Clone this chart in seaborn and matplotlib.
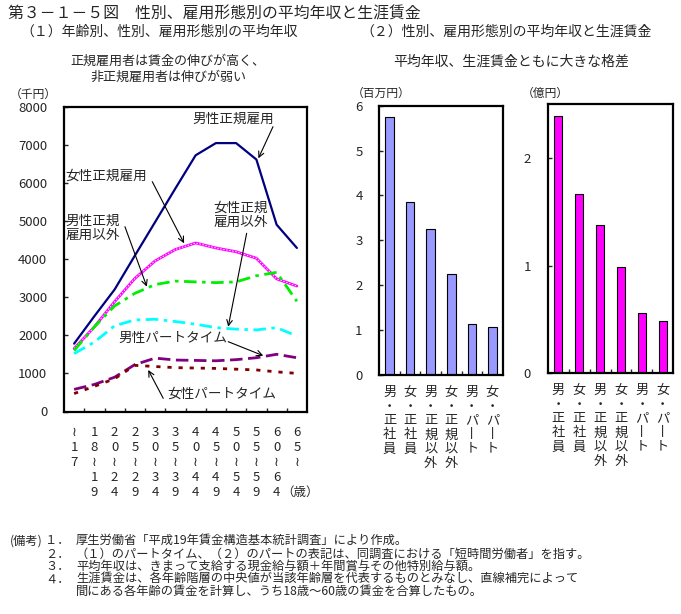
import numpy as np
import pandas as pd
import matplotlib
matplotlib.use("Agg")
import matplotlib.pyplot as plt
import seaborn as sns
from matplotlib.ticker import FixedLocator

sns.set_style("white")
plt.rcParams["font.family"] = ["Noto Sans CJK JP", "DejaVu Sans"]
plt.rcParams["lines.scale_dashes"] = False

# ---------------- data ----------------
age_labels = ["≀\n1\n7", "1\n8\n≀\n1\n9", "2\n0\n≀\n2\n4", "2\n5\n≀\n2\n9",
              "3\n0\n≀\n3\n4", "3\n5\n≀\n3\n9", "4\n0\n≀\n4\n4", "4\n5\n≀\n4\n9",
              "5\n0\n≀\n5\n4", "5\n5\n≀\n5\n9", "6\n0\n≀\n6\n4", "6\n5\n≀"]
male_regular = [1780, 2500, 3200, 4090, 4970, 5850, 6720, 7040, 7040, 6610, 4900, 4290]
female_regular = [1650, 2220, 2880, 3490, 3950, 4250, 4420, 4290, 4190, 4020, 3480, 3290]
male_nonregular = [1600, 2220, 2770, 3100, 3330, 3420, 3400, 3380, 3400, 3560, 3650, 2890]
female_nonregular = [1520, 1820, 2250, 2400, 2420, 2360, 2290, 2200, 2160, 2140, 2200, 1980]
male_part = [580, 710, 900, 1230, 1400, 1350, 1340, 1330, 1360, 1410, 1500, 1410]
female_part = [470, 660, 860, 1210, 1180, 1150, 1140, 1130, 1110, 1090, 1040, 1000]

bar_categories = ["男・正社員", "女・正社員", "男・正規以外", "女・正規以外", "男・パート", "女・パート"]
bar_labels = ["男\n・\n正\n社\n員", "女\n・\n正\n社\n員", "男\n・\n正\n規\n以\n外",
              "女\n・\n正\n規\n以\n外", "男\n・\nパ\n丨\nト", "女\n・\nパ\n丨\nト"]
avg_income = [5.75, 3.86, 3.25, 2.26, 1.13, 1.06]      # 百万円
lifetime_wage = [2.39, 1.67, 1.38, 0.99, 0.56, 0.48]   # 億円

W, H = 681, 614
fig = plt.figure(figsize=(W / 100, H / 100), dpi=100)


def px_axes(l, t, r, b):
    return fig.add_axes([l / W, 1 - b / H, (r - l) / W, (b - t) / H])


def ftext(x, y, s, **kw):
    kw.setdefault("va", "center")
    fig.text(x / W, 1 - y / H, s, **kw)


def style_box(ax):
    for sp in ax.spines.values():
        sp.set_visible(True)
        sp.set_color("black")
        sp.set_linewidth(1.6)


# ---------------- line chart ----------------
ax1 = px_axes(64, 106.5, 307, 411.5)
x = np.arange(len(age_labels))
sns.lineplot(x=x, y=male_regular, ax=ax1, color="#000080", lw=1.6)
sns.lineplot(x=x, y=female_regular, ax=ax1, color="#FF00FF", lw=2.0)
sns.lineplot(x=x, y=female_regular, ax=ax1, color="white", lw=0.7, linestyle=(0, (1, 1.2)))
sns.lineplot(x=x, y=male_nonregular, ax=ax1, color="#00EE00", lw=2.0, linestyle=(0, (9, 4, 2.5, 4)))
sns.lineplot(x=x, y=female_nonregular, ax=ax1, color="#00FFFF", lw=2.0, linestyle=(0, (9, 4, 2.5, 4)))
sns.lineplot(x=x, y=male_part, ax=ax1, color="#800080", lw=2.0, linestyle=(0, (9, 4)))
sns.lineplot(x=x, y=female_part, ax=ax1, color="#800000", lw=2.0, linestyle=(0, (3, 5)))
ax1.set_xlim(-0.5, 11.5)
ax1.set_ylim(0, 8000)
ax1.yaxis.set_major_locator(FixedLocator(np.arange(0, 8001, 1000)))
ax1.set_yticklabels([str(v) for v in range(0, 8001, 1000)], fontsize=9.5)
ax1.set_xticks(x)
ax1.set_xticklabels(age_labels, fontsize=9.5, va="top", linespacing=1.2)
ax1.xaxis.set_minor_locator(FixedLocator(np.arange(0.5, 11, 1)))
ax1.tick_params(axis="x", which="major", length=0, pad=10.5)
ax1.tick_params(axis="x", which="minor", direction="in", length=3, width=1, bottom=True)
ax1.tick_params(axis="y", direction="in", length=3, width=1, pad=12, left=True)
ax1.set_xlabel("")
ax1.set_ylabel("")
style_box(ax1)

ann_fs = 9.8
arrow = dict(arrowstyle="->", color="black", lw=0.8, shrinkA=0, shrinkB=0)
ax1.text(7.85, 7672, "男性正規雇用", fontsize=ann_fs, ha="center", va="center")
ax1.annotate("", xy=(9.10, 6641), xytext=(9.82, 7470), arrowprops=arrow)
ax1.text(-0.42, 6177, "女性正規雇用", fontsize=ann_fs, ha="left", va="center")
ax1.annotate("", xy=(5.43, 4412), xytext=(3.86, 6028), arrowprops=arrow)
ax1.text(-0.42, 4826, "男性正規\n雇用以外", fontsize=ann_fs, ha="left", va="center", linespacing=1.0)
ax1.annotate("", xy=(3.59, 3273), xytext=(2.51, 4847), arrowprops=arrow)
ax1.text(8.22, 5154, "女性正規\n雇用以外", fontsize=ann_fs, ha="center", va="center", linespacing=1.0)
ax1.annotate("", xy=(7.61, 2224), xytext=(8.52, 4674), arrowprops=arrow)
ax1.text(4.86, 1941, "男性パートタイム", fontsize=ann_fs, ha="center", va="center")
ax1.annotate("", xy=(9.34, 1464), xytext=(7.61, 1831), arrowprops=arrow)
ax1.text(7.29, 459, "女性パートタイム", fontsize=ann_fs, ha="center", va="center")
ax1.annotate("", xy=(3.66, 1089), xytext=(4.40, 346), arrowprops=arrow)

# ---------------- bar charts ----------------
df = pd.DataFrame({"cat": bar_categories, "income": avg_income, "life": lifetime_wage})

ax2 = px_axes(379.3, 105.7, 502.7, 375)
sns.barplot(data=df, x="cat", y="income", ax=ax2, color="#9999FF", width=0.42,
            edgecolor="black", linewidth=0.8, saturation=1)
ax2.set_ylim(0, 6)
ax2.set_xlim(-0.5, 5.5)
ax2.yaxis.set_major_locator(FixedLocator(range(0, 7)))
ax2.set_yticklabels([str(v) for v in range(0, 7)], fontsize=9.5)

ax3 = px_axes(547.7, 104.3, 673.3, 373)
sns.barplot(data=df, x="cat", y="life", ax=ax3, color="#FF00FF", width=0.40,
            edgecolor="black", linewidth=0.8, saturation=1)
ax3.set_ylim(0, 2.5)
ax3.set_xlim(-0.5, 5.5)
ax3.yaxis.set_major_locator(FixedLocator([0, 1, 2]))
ax3.set_yticklabels(["0", "1", "2"], fontsize=9.5)

for ax in (ax2, ax3):
    ax.set_xticks(range(6))
    ax.set_xticklabels(bar_labels, fontsize=9.5, va="top", linespacing=1.11)
    ax.xaxis.set_minor_locator(FixedLocator(np.arange(0.5, 5, 1)))
    ax.tick_params(axis="x", which="major", length=0, pad=8)
    ax.tick_params(axis="x", which="minor", direction="in", length=3, width=1, bottom=True)
    ax.tick_params(axis="y", direction="in", length=3, width=1, pad=12, left=True)
    ax.set_xlabel("")
    ax.set_ylabel("")
    style_box(ax)

# ---------------- titles & notes ----------------
ftext(8, 14.5, "第３－１－５図　性別、雇用形態別の平均年収と生涯賃金", fontsize=11.4, ha="left")
ftext(20, 31.5, "（１）年齢別、性別、雇用形態別の平均年収", fontsize=10, ha="left")
ftext(360, 31.5, "（２）性別、雇用形態別の平均年収と生涯賃金", fontsize=10, ha="left")
ftext(168, 61.5, "正規雇用者は賃金の伸びが高く、", fontsize=9.4, ha="center")
ftext(168, 77.5, "非正規雇用者は伸びが弱い", fontsize=9.4, ha="center")
ftext(511, 61.5, "平均年収、生涯賃金ともに大きな格差", fontsize=10, ha="center")
ftext(10, 94, "（千円）", fontsize=8.5, ha="left")
ftext(352, 93.5, "（百万円）", fontsize=8.5, ha="left")
ftext(522, 93.5, "（億円）", fontsize=8.5, ha="left")
ftext(300, 492, "（歳）", fontsize=9, ha="center")

note_fs = 8.8
ftext(10, 540.7, "(備考)", fontsize=note_fs, ha="left")
nums = ["１．", "２．", "３．", "４．"]
notes = ["厚生労働省「平成19年賃金構造基本統計調査」により作成。",
         "（１）のパートタイム、（２）のパートの表記は、同調査における「短時間労働者」を指す。",
         "平均年収は、きまって支給する現金給与額＋年間賞与その他特別給与額。",
         "生涯賃金は、各年齢階層の中央値が当該年齢層を代表するものとみなし、直線補完によって"]
ys = [540.7, 554.3, 566.7, 579.3]
for n, t, y in zip(nums, notes, ys):
    ftext(45, y, n, fontsize=note_fs, ha="left")
    ftext(76, y, t, fontsize=note_fs, ha="left")
ftext(76, 591.7, "間にある各年齢の賃金を計算し、うち18歳～60歳の賃金を合算したもの。", fontsize=note_fs, ha="left")

fig.savefig("out.png", dpi=100)
